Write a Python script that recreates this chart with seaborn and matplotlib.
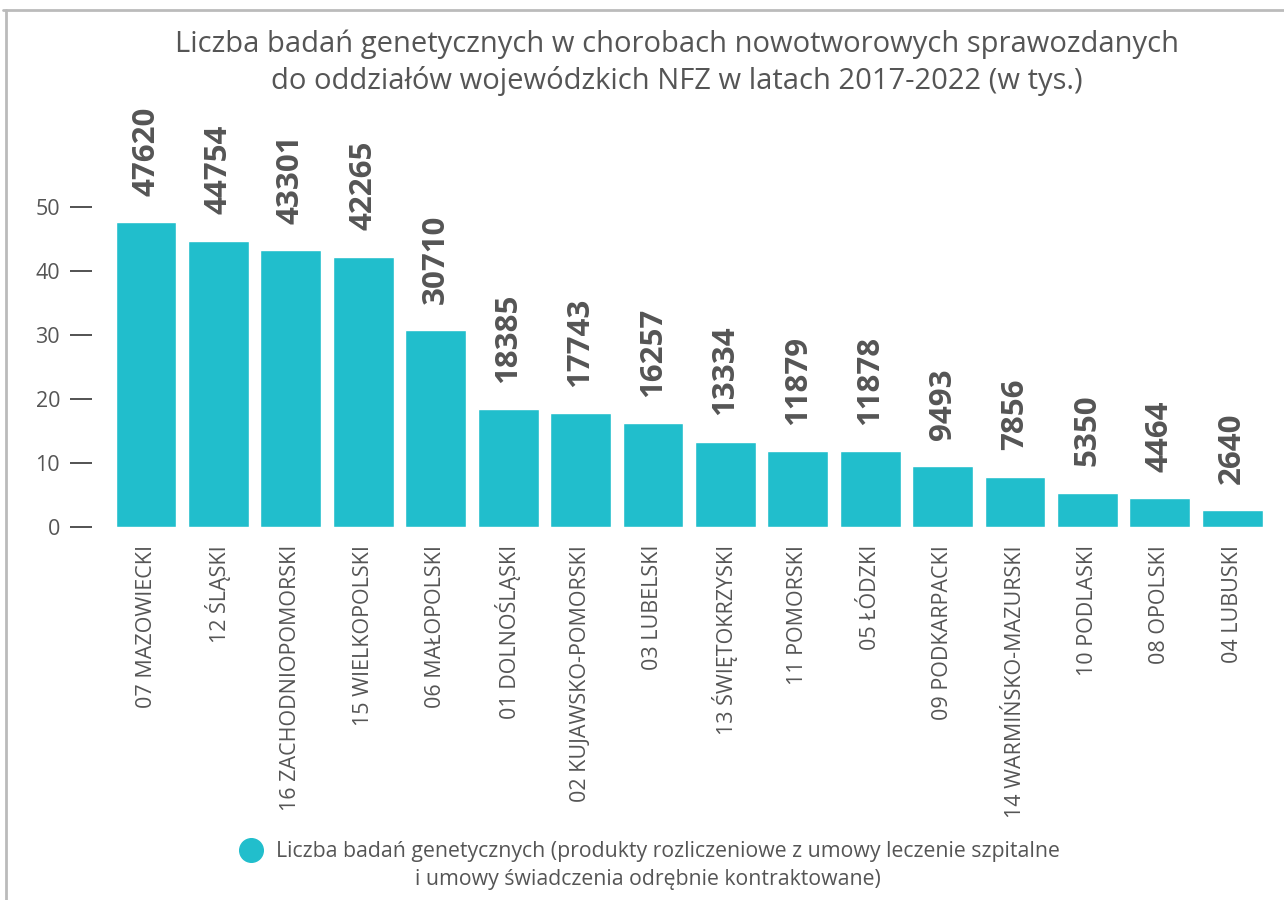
import pandas as pd
import matplotlib.pyplot as plt
import seaborn as sns
from matplotlib.lines import Line2D

# data
regions = [
    "07 MAZOWIECKI", "12 ŚLĄSKI", "16 ZACHODNIOPOMORSKI", "15 WIELKOPOLSKI",
    "06 MAŁOPOLSKI", "01 DOLNOŚLĄSKI", "02 KUJAWSKO-POMORSKI", "03 LUBELSKI",
    "13 ŚWIĘTOKRZYSKI", "11 POMORSKI", "05 ŁÓDZKI", "09 PODKARPACKI",
    "14 WARMIŃSKO-MAZURSKI", "10 PODLASKI", "08 OPOLSKI", "04 LUBUSKI",
]
counts = [47620, 44754, 43301, 42265, 30710, 18385, 17743, 16257,
          13334, 11879, 11878, 9493, 7856, 5350, 4464, 2640]
yticks = [0, 10, 20, 30, 40, 50]

title = ("Liczba badań genetycznych w chorobach nowotworowych sprawozdanych\n"
         "do oddziałów wojewódzkich NFZ w latach 2017-2022 (w tys.)")
legend_line1 = "Liczba badań genetycznych (produkty rozliczeniowe z umowy leczenie szpitalne"
legend_line2 = "i umowy świadczenia odrębnie kontraktowane)"

bar_color = "#21BECC"
text_color = "#555555"

df = pd.DataFrame({"region": regions, "count": counts})
df["thousands"] = df["count"] / 1000

sns.set_style("white")
plt.rcParams["font.family"] = ["Open Sans", "DejaVu Sans"]

W, H = 1284, 900
fig = plt.figure(figsize=(W / 100, H / 100), dpi=100)
ax = fig.add_axes([92 / W, 1 - 527 / H, (1275 - 92) / W, (527 - 120) / H])

sns.barplot(data=df, x="region", y="thousands", color=bar_color,
            saturation=1, width=0.84, ax=ax)

ax.set_xlim(-0.746, 15.59)
ax.set_ylim(0, 63.6)
ax.set_yticks(yticks)
ax.set_xlabel("")
ax.set_ylabel("")
for s in ax.spines.values():
    s.set_visible(False)

ax.tick_params(axis="y", length=16, width=1.3, color="#444444", pad=7,
               labelsize=15.5, labelcolor=text_color, left=True)
ax.tick_params(axis="x", length=0, pad=13, labelsize=15.5,
               labelcolor=text_color, rotation=90)

# value labels above bars
for i, v in enumerate(counts):
    ax.annotate(f"{v}", (i, v / 1000), xytext=(0, 19), textcoords="offset points",
                rotation=90, ha="center", va="bottom", fontsize=22.5,
                fontweight="bold", color=text_color, annotation_clip=False)

fig.text(677 / W, 1 - 63 / H, title, ha="center", va="center",
         fontsize=21, color=text_color, linespacing=1.3)

# legend
handle = Line2D([], [], marker="o", linestyle="", markersize=17,
                markerfacecolor=bar_color, markeredgecolor=bar_color)
fig.legend([handle], [legend_line1], loc="center", bbox_to_anchor=(650 / W, 1 - 852 / H),
           frameon=False, fontsize=15.3, labelcolor=text_color,
           handletextpad=0.7, handlelength=1.0)
fig.text(648 / W, 1 - 880 / H, legend_line2, ha="center", va="center",
         fontsize=15.3, color=text_color)

# frame of the original card (top and left edges)
fig.add_artist(Line2D([3 / W, 1], [1 - 10 / H, 1 - 10 / H], color="#BBBBBB", lw=2))
fig.add_artist(Line2D([6 / W, 6 / W], [0, 1 - 10 / H], color="#BBBBBB", lw=2))

fig.savefig("out.png", dpi=100)
